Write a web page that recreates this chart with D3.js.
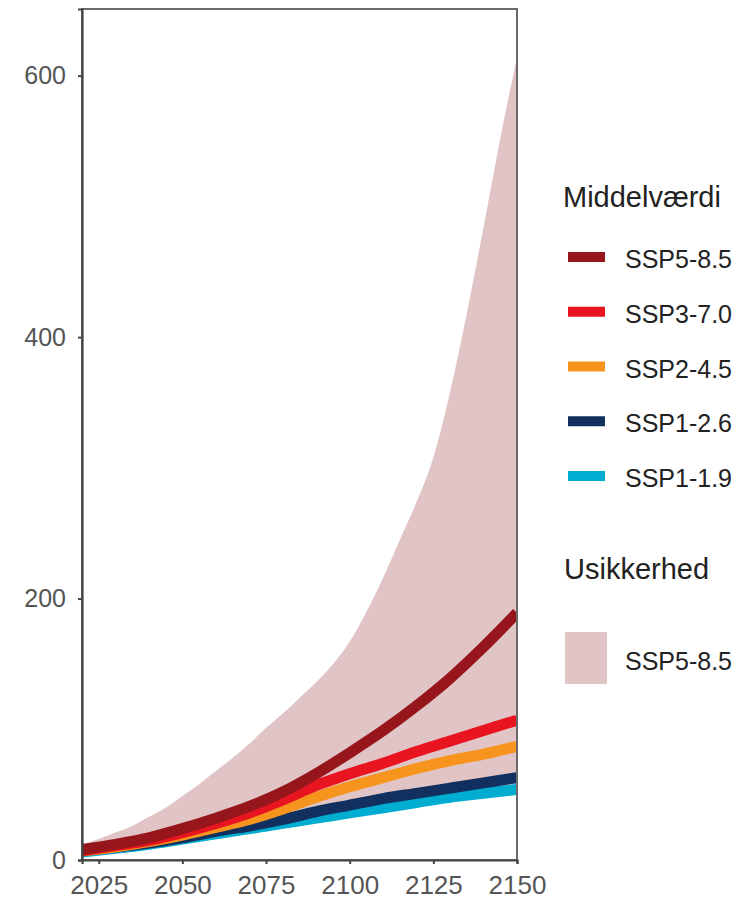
<!DOCTYPE html>
<html>
<head>
<meta charset="utf-8">
<script src="https://cdn.jsdelivr.net/npm/d3@7"></script>
<style>
  html, body { margin: 0; padding: 0; background: #fff; }
  svg { display: block; }
  text { font-family: "Liberation Sans", Arial, sans-serif; }
</style>
</head>
<body>
<div id="chart"></div>
<script>
// ---------- data ----------
const lineYears = [2020, 2030, 2040, 2050, 2060, 2070, 2080, 2090, 2100, 2110, 2120, 2130, 2140, 2150];
const ssp585 = [8, 12, 17, 24, 32, 41, 52, 66, 82, 99, 118, 139, 163, 189];
const ssp370 = [7, 11, 15, 21, 28, 36, 46, 57, 66, 74, 83, 91, 99, 107];
const ssp245 = [7, 10, 14, 19, 25, 31, 39, 48, 56, 63, 70, 76, 81, 87];
const ssp126 = [7, 10, 13, 17, 22, 26, 31, 37, 42, 47, 51, 55, 59, 63];
const ssp119 = [6, 9, 12, 16, 20, 24, 28, 32, 36, 40, 44, 48, 51, 54];

const bandYears = [2020, 2025, 2030, 2035, 2040, 2045, 2050, 2055, 2060, 2065, 2070, 2075, 2080, 2085,
                   2090, 2095, 2100, 2105, 2110, 2115, 2120, 2125, 2130, 2135, 2140, 2145, 2150];
const bandUpper = [12, 16, 21, 26, 33, 40, 49, 58, 68, 78, 89, 101, 112, 124,
                   136, 150, 167, 190, 216, 245, 274, 308, 358, 418, 484, 552, 614];
const bandLower = [2, 4, 6, 7, 9, 11, 13, 14, 16, 18, 21, 23, 25, 27,
                   29, 31, 33, 35, 37, 39, 41, 43, 45, 46, 48, 50, 51];

const seriesNames = ["SSP5-8.5", "SSP3-7.0", "SSP2-4.5", "SSP1-2.6", "SSP1-1.9"];
const seriesValues = [ssp585, ssp370, ssp245, ssp126, ssp119];
const seriesColors = ["#97161c", "#e8141f", "#f7941d", "#12305f", "#00acd0"];
const bandColor = "#e1c4c6";

const xTicks = [2025, 2050, 2075, 2100, 2125, 2150];
const yTicks = [0, 200, 400, 600];
const legendTitle1 = "Middelværdi";
const legendTitle2 = "Usikkerhed";
const bandLabel = "SSP5-8.5";

// ---------- layout ----------
const W = 742, H = 907;
const P = { left: 82, right: 517, top: 9, bottom: 860 };

const svg = d3.select("#chart").append("svg").attr("width", W).attr("height", H);

const x = d3.scaleLinear().domain([2020, 2150]).range([P.left, P.right]);
const y = d3.scaleLinear().domain([0, 651]).range([P.bottom, P.top]);

svg.append("clipPath").attr("id", "clip")
  .append("rect").attr("x", P.left).attr("y", P.top)
  .attr("width", P.right - P.left).attr("height", P.bottom - P.top);

const plot = svg.append("g").attr("clip-path", "url(#clip)");

// ribbon
const bandData = bandYears.map((yr, i) => ({ yr, lo: bandLower[i], hi: bandUpper[i] }));
plot.append("path")
  .datum(bandData)
  .attr("fill", bandColor)
  .attr("d", d3.area().curve(d3.curveMonotoneX)
    .x(d => x(d.yr)).y0(d => y(d.lo)).y1(d => y(d.hi)));

// lines (drawn from bottom series to top series)
const lineGen = d3.line().curve(d3.curveMonotoneX).x(d => x(d.yr)).y(d => y(d.v));
for (let s = seriesNames.length - 1; s >= 0; s--) {
  const data = lineYears.map((yr, i) => ({ yr, v: seriesValues[s][i] }));
  plot.append("path").datum(data)
    .attr("fill", "none")
    .attr("stroke", seriesColors[s])
    .attr("stroke-width", 11)
    .attr("stroke-linecap", "butt")
    .attr("stroke-linejoin", "round")
    .attr("d", lineGen);
}

// panel border
svg.append("rect")
  .attr("x", P.left).attr("y", P.top)
  .attr("width", P.right - P.left).attr("height", P.bottom - P.top)
  .attr("fill", "none").attr("stroke", "#6a6a6a").attr("stroke-width", 2);

// axes
const xAxis = d3.axisBottom(x).tickValues(xTicks).tickFormat(d3.format("d")).tickSize(4).tickPadding(12);
const gx = svg.append("g").attr("transform", `translate(0,${P.bottom})`).call(xAxis);
gx.select(".domain").attr("stroke", "#444").attr("stroke-width", 2.2);
gx.selectAll(".tick line").attr("stroke", "#444").attr("stroke-width", 2);
gx.selectAll(".tick text").attr("fill", "#555").attr("font-size", 26)
  .attr("font-family", "Liberation Sans, Arial, sans-serif");

const yAxis = d3.axisLeft(y).tickValues(yTicks).tickSize(4).tickPadding(12);
const gy = svg.append("g").attr("transform", `translate(${P.left},0)`).call(yAxis);
gy.select(".domain").attr("stroke", "#444").attr("stroke-width", 2.2);
gy.selectAll(".tick line").attr("stroke", "#444").attr("stroke-width", 2);
gy.selectAll(".tick text").attr("fill", "#555").attr("font-size", 25)
  .attr("font-family", "Liberation Sans, Arial, sans-serif");

// ---------- legend ----------
const lg = svg.append("g");
lg.append("text").attr("x", 563).attr("y", 207).attr("font-size", 29).attr("fill", "#222")
  .text(legendTitle1);

const keyY = d3.scalePoint().domain(seriesNames).range([257, 476]);
seriesNames.forEach((name, i) => {
  const cy = keyY(name);
  lg.append("line").attr("x1", 568).attr("x2", 605).attr("y1", cy).attr("y2", cy)
    .attr("stroke", seriesColors[i]).attr("stroke-width", 10);
  lg.append("text").attr("x", 625).attr("y", cy + 11).attr("font-size", 25).attr("fill", "#222")
    .text(name);
});

lg.append("text").attr("x", 564).attr("y", 579).attr("font-size", 29).attr("fill", "#222")
  .text(legendTitle2);
lg.append("rect").attr("x", 565).attr("y", 632).attr("width", 42).attr("height", 52)
  .attr("fill", bandColor);
lg.append("text").attr("x", 625).attr("y", 670).attr("font-size", 25).attr("fill", "#222")
  .text(bandLabel);
</script>
</body>
</html>
